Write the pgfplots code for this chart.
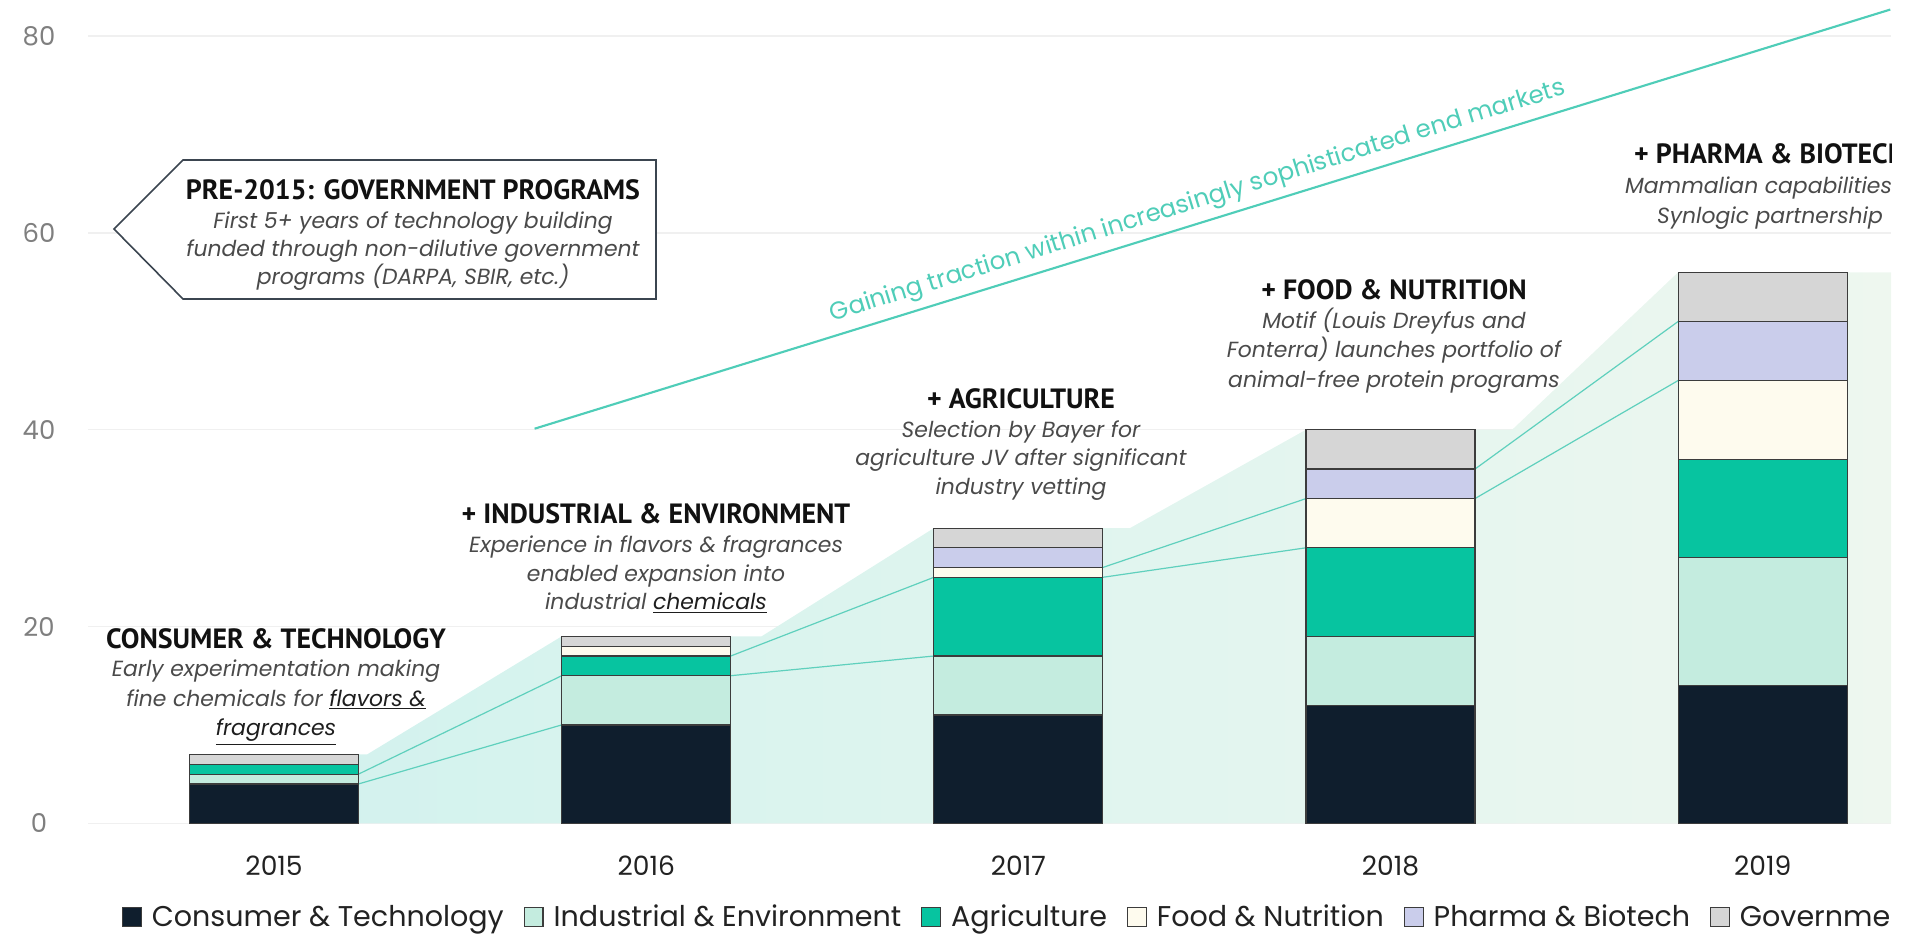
\documentclass[border=0pt]{standalone}
\usepackage{pgfplots}
\pgfplotsset{compat=1.18}
\usepackage{fontspec}
\setmainfont{Poppins}
\newfontfamily\titlefont{PT Sans}
\definecolor{cnavy}{HTML}{0F1E2D}
\definecolor{cmint}{HTML}{C4ECDF}
\definecolor{cteal}{HTML}{07C4A0}
\definecolor{ccream}{HTML}{FEFBEE}
\definecolor{clav}{HTML}{CACDEB}
\definecolor{cgray}{HTML}{D6D6D6}
\definecolor{barline}{HTML}{3C3C3C}
\definecolor{gridc}{HTML}{F0F0F0}
\definecolor{tickc}{HTML}{7F7F7F}
\definecolor{yearc}{HTML}{222222}
\definecolor{legc}{HTML}{222222}
\definecolor{areaL}{HTML}{D2F2EE}
\definecolor{areaR}{HTML}{EEF7EF}
\definecolor{serc}{HTML}{5FD0BD}
\definecolor{trendc}{HTML}{4FCDB8}
\definecolor{boxc}{HTML}{3B4550}
\definecolor{descc}{HTML}{4A4A4A}
\definecolor{ulc}{HTML}{1E1E1E}
\definecolor{titc}{HTML}{111111}
\tikzset{
  tit/.style={anchor=base, text=titc, font=\titlefont\bfseries\fontsize{21}{21}\selectfont},
  desc/.style={anchor=base, text=descc, font=\itshape\fontsize{16.5}{16.5}\selectfont},
}
\begin{document}
\begin{tikzpicture}
\useasboundingbox (-66bp,-84.525bp) rectangle (1369.5bp,617.475bp);
\begin{scope}
\clip (-66bp,-84.525bp) rectangle (1352.25bp,617.475bp);
% background axis: grid, ticks, area, lines
\begin{axis}[
  at={(0,0)}, anchor=south west, scale only axis,
  width=1352.25bp, height=617.475bp,
  xmin=-0.5, xmax=4.345, ymin=0, ymax=83.67,
  xtick={0,1,2,3,4}, xticklabels={2015,2016,2017,2018,2019},
  ytick={0,20,40,60,80},
  axis line style={draw=none}, major tick length=0pt, tick style={draw=none},
  ymajorgrids, grid style={draw=gridc, line width=1.1bp},
  yticklabel style={anchor=center, xshift=-36.75bp, text=tickc, font=\fontsize{19.5}{19.5}\selectfont},
  xticklabel style={anchor=center, yshift=-31.9bp, text=yearc, font=\fontsize{20}{20}\selectfont},
  /pgf/number format/assume math mode=true,
  clip=false,
]
\addplot[draw=none, left color=areaL, right color=areaR] coordinates {
  (0,7) (0.25,7) (0.773,19) (1.31,19) (1.773,30) (2.30,30) (2.773,40) (3.327,40) (3.773,56) (4.345,56)
} \closedcycle;
\addplot[serc, line width=0.9bp] coordinates {(0.227,4) (0.773,10)};
\addplot[serc, line width=0.9bp] coordinates {(0.227,5) (0.773,15)};
\addplot[serc, line width=0.9bp] coordinates {(1.227,15) (1.773,17)};
\addplot[serc, line width=0.9bp] coordinates {(1.227,17) (1.773,25)};
\addplot[serc, line width=0.9bp] coordinates {(2.227,25) (2.773,28)};
\addplot[serc, line width=0.9bp] coordinates {(2.227,26) (2.773,33)};
\addplot[serc, line width=0.9bp] coordinates {(3.227,33) (3.773,45)};
\addplot[serc, line width=0.9bp] coordinates {(3.227,36) (3.773,51)};
\addplot[trendc, line width=1.6bp] coordinates {(0.70,40.1) (4.343,82.7)};
\end{axis}
% foreground axis: stacked bars and legend
\begin{axis}[
  at={(0,0)}, anchor=south west, scale only axis,
  width=1352.25bp, height=617.475bp,
  xmin=-0.5, xmax=4.345, ymin=0, ymax=83.67,
  hide axis, ybar stacked, bar width=126.75bp,
  legend columns=6,
  legend style={at={(0.01886,-0.1138)}, anchor=west, draw=none, fill=none,
    inner sep=0pt, outer sep=0pt, font=\fontsize{21.5}{21.5}\selectfont, text=legc,
    nodes={inner sep=0pt},
    /tikz/every even column/.append style={column sep=15bp},
    /tikz/every odd column/.append style={column sep=7.5bp}},
  legend image code/.code={\draw[#1, line width=0.9bp] (0bp,-7bp) rectangle (14bp,7bp);},
  clip=false,
]
\addplot[fill=cnavy, draw=barline, line width=0.9bp] coordinates {(0,4) (1,10) (2,11) (3,12) (4,14)};
\addlegendentry{Consumer \& Technology}
\addplot[fill=cmint, draw=barline, line width=0.9bp] coordinates {(0,1) (1,5) (2,6) (3,7) (4,13)};
\addlegendentry{Industrial \& Environment}
\addplot[fill=cteal, draw=barline, line width=0.9bp] coordinates {(0,1) (1,2) (2,8) (3,9) (4,10)};
\addlegendentry{Agriculture}
\addplot[fill=ccream, draw=barline, line width=0.9bp] coordinates {(0,0) (1,1) (2,1) (3,5) (4,8)};
\addlegendentry{Food \& Nutrition}
\addplot[fill=clav, draw=barline, line width=0.9bp] coordinates {(0,0) (1,0) (2,2) (3,3) (4,6)};
\addlegendentry{Pharma \& Biotech}
\addplot[fill=cgray, draw=barline, line width=0.9bp] coordinates {(0,1) (1,1) (2,2) (3,4) (4,5)};
\addlegendentry{Government}
\end{axis}
% annotations, in pixel coordinates of the reference
\begin{scope}[x=0.75bp, y=-0.75bp, shift={(-66bp,617.475bp)}]
\draw[boxc, line width=1.2bp, fill=white] (183,160) -- (656,160) -- (656,299) -- (183,299) -- (114,229) -- cycle;
\node[tit] at (413,199.5) {PRE-2015: GOVERNMENT PROGRAMS};
\node[desc] at (413,229) {First 5+ years of technology building};
\node[desc] at (413,257) {funded through non-dilutive government};
\node[desc] at (413,285) {programs (DARPA, SBIR, etc.)};

\node[tit] at (276,648.5) {CONSUMER \& TECHNOLOGY};
\node[desc] at (276,677) {Early experimentation making};
\node[desc] at (276,706.5) {fine chemicals for \textcolor{ulc}{\underline{flavors \&}}};
\node[desc] at (276,736) {\textcolor{ulc}{\underline{fragrances}}};

\node[tit] at (656,523.5) {+ INDUSTRIAL \& ENVIRONMENT};
\node[desc] at (656,553) {Experience in flavors \& fragrances};
\node[desc] at (656,582) {enabled expansion into};
\node[desc] at (656,610) {industrial \textcolor{ulc}{\underline{chemicals}}};

\node[tit] at (1021,408.5) {+ AGRICULTURE};
\node[desc] at (1021,438) {Selection by Bayer for};
\node[desc] at (1021,466) {agriculture JV after significant};
\node[desc] at (1021,495) {industry vetting};

\node[tit] at (1394,300) {+ FOOD \& NUTRITION};
\node[desc] at (1394,329) {Motif (Louis Dreyfus and};
\node[desc] at (1394,358) {Fonterra) launches portfolio of};
\node[desc] at (1394,388) {animal-free protein programs};

\node[tit] at (1770,163.5) {+ PHARMA \& BIOTECH};
\node[desc] at (1770,194) {Mammalian capabilities \&};
\node[desc] at (1770,224) {Synlogic partnership};

\node[text=trendc, rotate=17.2, font=\fontsize{18.5}{18.5}\selectfont] at (1198,202) {Gaining traction within increasingly sophisticated end markets};
\end{scope}
\end{scope}
\end{tikzpicture}
\end{document}
